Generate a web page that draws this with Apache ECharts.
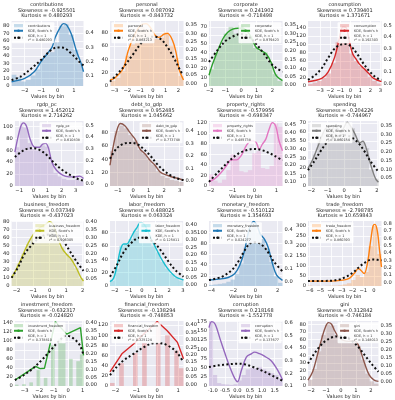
<!DOCTYPE html>
<html>
<head>
<meta charset="utf-8">
<script src="https://cdn.jsdelivr.net/npm/echarts@6/dist/echarts.min.js"></script>
<style>
  html, body { margin: 0; padding: 0; background: #fff; }
  #chart { width: 395px; height: 400px; }
</style>
</head>
<body>
<div id="chart"></div>
<script>
// ---- data ----
const names = ['contributions', 'personal', 'corporate', 'consumption',
  'rgdp_pc', 'debt_to_gdp', 'property_rights', 'spending',
  'business_freedom', 'labor_freedom', 'monetary_freedom', 'trade_freedom',
  'investment_freedom', 'financial_freedom', 'corruption', 'gini'];
const skewness = ['-0.925501', '0.087092', '0.241902', '0.739401',
  '1.452012', '0.952485', '-0.579956', '-0.204226',
  '0.037349', '0.488025', '-0.510122', '-2.798785',
  '-0.632317', '-0.138294', '0.218168', '0.312842'];
const kurtosis = ['0.480293', '-0.843732', '-0.718498', '1.371671',
  '2.714262', '1.045662', '-0.698347', '-0.744967',
  '-0.437023', '0.063324', '1.354693', '10.659843',
  '-0.024820', '-0.748853', '-1.552778', '-0.746184'];
const rSquared = ['0.480293', '0.867213', '0.979423', '0.192303',
  '0.610838', '0.773748', '0.485738', '0.860154',
  '0.906305', '0.125811', '0.024277', '0.860393',
  '0.378810', '0.325124', '0.137677', '0.148013'];

const xRanges = [[-2.8, 1.58], [-3.35, 2.4], [-2.05, 2.65], [-4.2, 3.1],
  [-1.3, 3.55], [-1.5, 3.25], [-2.07, 1.28], [-2.2, 2.1],
  [-2.3, 2.05], [-2.35, 3.05], [-4.2, 2.45], [-6.15, 0.7],
  [-3.67, 1.06], [-2.26, 1.26], [-1.15, 1.82], [-2.2, 2.5]];
const xTicks = [[-2, -1, 0, 1], [-3, -2, -1, 0, 1, 2], [-2, -1, 0, 1, 2], [-3, -2, -1, 0, 1, 2, 3],
  [-1, 0, 1, 2, 3], [-1, 0, 1, 2, 3], [-2, -1, 0, 1], [-2, -1, 0, 1, 2],
  [-2, -1, 0, 1, 2], [-2, -1, 0, 1, 2, 3], [-4, -2, 0, 2], [-6, -5, -4, -3, -2, -1, 0],
  [-3, -2, -1, 0, 1], [-2, -1, 0, 1], [-1, -0.5, 0, 0.5, 1, 1.5], [-2, -1, 0, 1, 2]];

const countMax = [86.5, 97, 77, 156, 109, 97, 123, 72, 80.7, 97, 121.6, 325, 144, 128, 177, 84.3];
const countTicks = [
  [0, 10, 20, 30, 40, 50, 60, 70, 80], [0, 20, 40, 60, 80], [0, 10, 20, 30, 40, 50, 60, 70],
  [0, 20, 40, 60, 80, 100, 120, 140], [0, 20, 40, 60, 80, 100], [0, 20, 40, 60, 80],
  [0, 20, 40, 60, 80, 100, 120], [0, 10, 20, 30, 40, 50, 60, 70], [0, 10, 20, 30, 40, 50, 60, 70, 80],
  [0, 20, 40, 60, 80], [0, 20, 40, 60, 80, 100], [0, 50, 100, 150, 200, 250, 300],
  [0, 20, 40, 60, 80, 100, 120, 140], [0, 20, 40, 60, 80, 100, 120], [0, 25, 50, 75, 100, 125, 150, 175],
  [0, 10, 20, 30, 40, 50, 60, 70, 80]];

const densityRanges = [[0.031, 0.484], [-0.016, 0.374], [-0.006, 0.373], [-0.023, 0.537],
  [-0.017, 0.536], [-0.039, 0.478], [0.07, 0.475], [0.005, 0.375],
  [0.002, 0.404], [-0.007, 0.426], [-0.033, 0.47], [-0.049, 0.836],
  [-0.006, 0.41], [-0.011, 0.427], [0.1, 0.613], [-0.025, 0.381]];
const densityTicks = [
  [0.1, 0.2, 0.3, 0.4], [0, 0.05, 0.1, 0.15, 0.2, 0.25, 0.3, 0.35],
  [0, 0.05, 0.1, 0.15, 0.2, 0.25, 0.3, 0.35], [0, 0.1, 0.2, 0.3, 0.4, 0.5],
  [0, 0.1, 0.2, 0.3, 0.4, 0.5], [0, 0.1, 0.2, 0.3, 0.4],
  [0.1, 0.15, 0.2, 0.25, 0.3, 0.35, 0.4, 0.45], [0.05, 0.1, 0.15, 0.2, 0.25, 0.3, 0.35],
  [0.05, 0.1, 0.15, 0.2, 0.25, 0.3, 0.35, 0.4], [0, 0.05, 0.1, 0.15, 0.2, 0.25, 0.3, 0.35, 0.4],
  [0, 0.1, 0.2, 0.3, 0.4], [0, 0.1, 0.2, 0.3, 0.4, 0.5, 0.6, 0.7, 0.8],
  [0, 0.05, 0.1, 0.15, 0.2, 0.25, 0.3, 0.35, 0.4], [0, 0.05, 0.1, 0.15, 0.2, 0.25, 0.3, 0.35, 0.4],
  [0.1, 0.2, 0.3, 0.4, 0.5, 0.6], [0, 0.05, 0.1, 0.15, 0.2, 0.25, 0.3, 0.35]];

const binStarts = [-2.8, -3.3, -2.05, -4.2, -1.3, -1.5, -2.07, -2.2,
  -2.3, -2.35, -4.2, -6.15, -3.67, -2.26, -1.15, -2.2];
const binWidths = [0.29, 0.38, 0.313, 0.456, 0.303, 0.297, 0.197, 0.287,
  0.29, 0.3375, 0.391, 0.403, 0.249, 0.22, 0.165, 0.294];
const binCounts = [
  [15, 12, 6, 8, 14, 22, 35, 42, 45, 58, 80, 82, 68, 48, 30],
  [8, 12, 22, 45, 62, 80, 88, 85, 78, 70, 72, 80, 60, 42, 15],
  [20, 40, 48, 62, 70, 62, 72, 64, 60, 45, 42, 40, 28, 14, 6],
  [5, 8, 12, 20, 30, 55, 105, 140, 125, 78, 60, 48, 42, 22, 12, 6],
  [65, 100, 98, 72, 62, 60, 68, 66, 40, 22, 16, 12, 10, 10, 12, 8],
  [52, 82, 90, 86, 76, 68, 54, 48, 40, 32, 22, 15, 12, 9, 8, 6],
  [22, 10, 6, 12, 30, 60, 58, 28, 26, 30, 62, 66, 34, 32, 38, 118, 112],
  [22, 35, 52, 60, 66, 64, 58, 62, 68, 64, 50, 48, 42, 18, 8],
  [14, 28, 40, 52, 62, 70, 74, 76, 72, 60, 48, 40, 34, 22, 10],
  [8, 26, 60, 62, 70, 82, 92, 90, 76, 60, 50, 36, 26, 18, 12, 8],
  [2, 3, 4, 5, 8, 12, 22, 42, 72, 108, 118, 100, 88, 70, 45, 18, 6],
  [2, 0, 1, 0, 1, 2, 2, 4, 8, 14, 30, 55, 45, 70, 200, 300, 160],
  [3, 0, 4, 0, 8, 0, 35, 0, 18, 0, 90, 0, 105, 95, 0, 60, 0, 55, 70],
  [6, 0, 45, 0, 0, 65, 0, 85, 0, 0, 120, 0, 100, 0, 70, 35],
  [190, 30, 8, 5, 4, 3, 5, 15, 30, 45, 50, 48, 52, 45, 40, 35, 30, 20],
  [8, 22, 45, 66, 80, 78, 66, 60, 58, 56, 58, 52, 34, 16, 6, 3]];

const kdeCurves = [
  [[-2.8,0.061],[-2.0,0.084],[-1.42,0.13],[-1.03,0.198],[-0.63,0.256],[-0.34,0.30],[-0.14,0.37],[0.16,0.44],[0.36,0.466],[0.55,0.457],[0.85,0.39],[1.14,0.278],[1.44,0.187],[1.58,0.13]],
  [[-3.35,0.02],[-3.0,0.03],[-2.32,0.089],[-1.92,0.197],[-1.52,0.276],[-0.99,0.345],[-0.53,0.358],[-0.19,0.335],[0.21,0.285],[0.48,0.276],[0.88,0.295],[1.15,0.3],[1.55,0.256],[1.81,0.187],[2.08,0.079],[2.4,0.02]],
  [[-2.05,0.057],[-1.81,0.125],[-1.49,0.2],[-1.17,0.268],[-0.85,0.307],[-0.53,0.326],[-0.21,0.331],[0.11,0.331],[0.32,0.32],[0.53,0.297],[0.74,0.259],[0.96,0.22],[1.28,0.2],[1.6,0.182],[1.91,0.134],[2.23,0.057],[2.65,0.025]],
  [[-4.2,0.014],[-2.84,0.042],[-2.19,0.099],[-1.55,0.226],[-1.06,0.395],[-0.74,0.486],[-0.42,0.48],[-0.1,0.367],[0.23,0.254],[0.55,0.212],[0.87,0.17],[1.35,0.127],[1.84,0.085],[2.32,0.042],[3.1,0.014]],
  [[-1.3,0.271],[-1.09,0.394],[-0.88,0.492],[-0.7,0.52],[-0.48,0.492],[-0.22,0.38],[0.11,0.313],[0.44,0.313],[0.66,0.34],[0.88,0.346],[1.09,0.299],[1.31,0.187],[1.64,0.117],[2.08,0.075],[2.52,0.061],[2.95,0.061],[3.28,0.067],[3.55,0.047]],
  [[-1.5,0.126],[-1.3,0.27],[-1.09,0.387],[-0.83,0.458],[-0.54,0.44],[-0.22,0.387],[0.11,0.335],[0.43,0.257],[0.76,0.217],[1.09,0.165],[1.41,0.126],[1.74,0.073],[2.17,0.047],[2.61,0.029],[2.93,0.021],[3.25,0.008]],
  [[-2.07,0.096],[-1.8,0.116],[-1.5,0.157],[-1.27,0.198],[-1.05,0.233],[-0.82,0.233],[-0.6,0.26],[-0.37,0.321],[-0.15,0.352],[0.07,0.342],[0.22,0.3],[0.37,0.332],[0.52,0.362],[0.67,0.424],[0.82,0.465],[0.97,0.444],[1.12,0.352],[1.28,0.29]],
  [[-2.2,0.105],[-1.92,0.154],[-1.63,0.222],[-1.35,0.29],[-1.15,0.329],[-0.96,0.339],[-0.77,0.319],[-0.58,0.348],[-0.38,0.329],[-0.19,0.309],[0,0.339],[0.19,0.368],[0.38,0.348],[0.67,0.3],[0.96,0.251],[1.15,0.26],[1.35,0.222],[1.63,0.125],[1.92,0.047],[2.1,0.027]],
  [[-2.3,0.053],[-2.02,0.105],[-1.73,0.167],[-1.43,0.239],[-1.14,0.296],[-0.84,0.342],[-0.55,0.366],[-0.25,0.383],[0,0.4],[0.2,0.383],[0.43,0.321],[0.73,0.239],[1.02,0.198],[1.31,0.167],[1.61,0.115],[1.9,0.053],[2.05,0.033]],
  [[-2.35,0.022],[-2.09,0.044],[-1.85,0.12],[-1.6,0.229],[-1.35,0.273],[-1.11,0.273],[-0.86,0.306],[-0.62,0.349],[-0.37,0.382],[-0.12,0.415],[0.12,0.408],[0.37,0.371],[0.62,0.317],[0.99,0.251],[1.35,0.186],[1.72,0.131],[2.09,0.087],[2.46,0.055],[2.71,0.044],[3.05,0.033]],
  [[-4.2,0.013],[-3.34,0.02],[-2.46,0.033],[-1.86,0.064],[-1.42,0.127],[-0.98,0.242],[-0.68,0.369],[-0.38,0.445],[-0.15,0.466],[0.15,0.433],[0.44,0.369],[0.8,0.331],[1.15,0.267],[1.54,0.14],[1.92,0.051],[2.45,0.01]],
  [[-6.15,0.018],[-4.15,0.018],[-2.92,0.031],[-2.31,0.054],[-1.85,0.12],[-1.45,0.188],[-1.23,0.165],[-0.92,0.12],[-0.62,0.254],[-0.31,0.567],[-0.09,0.768],[0.09,0.79],[0.31,0.7],[0.52,0.433],[0.7,0.21]],
  [[-3.67,0.032],[-2.24,0.12],[-1.94,0.105],[-1.63,0.108],[-0.88,0.406],[-0.1,0.326],[0.85,0.368],[1.06,0.19]],
  [[-2.26,0.084],[-1.69,0.206],[-1.13,0.272],[-0.73,0.327],[0,0.423],[0.48,0.361],[0.97,0.283],[1.26,0.173]],
  [[-1.15,0.561],[-1.04,0.608],[-0.9,0.587],[-0.7,0.47],[-0.5,0.354],[-0.31,0.25],[-0.11,0.16],[0,0.134],[0.16,0.224],[0.36,0.328],[0.56,0.354],[0.69,0.367],[0.89,0.355],[1.09,0.335],[1.36,0.3],[1.63,0.224],[1.82,0.15]],
  [[-2.2,0.012],[-1.89,0.064],[-1.58,0.166],[-1.26,0.279],[-1.01,0.35],[-0.84,0.371],[-0.63,0.361],[-0.42,0.32],[-0.11,0.275],[0.21,0.258],[0.53,0.254],[0.84,0.258],[1.05,0.248],[1.26,0.207],[1.58,0.115],[1.89,0.043],[2.21,0.012],[2.5,0.004]]];

const normalCurves = [
  [[-2.8,0.072],[-2.2,0.1],[-1.6,0.153],[-1.03,0.21],[-0.43,0.278],[0,0.30],[0.36,0.297],[0.85,0.256],[1.34,0.198],[1.58,0.175]],
  [[-3.35,0.01],[-2.85,0.05],[-2.19,0.108],[-1.52,0.177],[-0.85,0.246],[-0.32,0.276],[0.08,0.28],[0.61,0.266],[1.15,0.217],[1.68,0.148],[2.21,0.069],[2.4,0.05]],
  [[-2.05,0.134],[-1.49,0.205],[-0.96,0.259],[-0.43,0.287],[0,0.297],[0.43,0.287],[0.96,0.24],[1.49,0.178],[2.02,0.115],[2.65,0.077]],
  [[-4.2,0.03],[-3.5,0.07],[-2.84,0.13],[-2.19,0.22],[-1.55,0.3],[-0.9,0.335],[-0.42,0.338],[0.06,0.32],[0.71,0.25],[1.35,0.165],[2.0,0.095],[2.65,0.045],[3.1,0.03]],
  [[-1.3,0.229],[-0.88,0.271],[-0.44,0.299],[0,0.304],[0.44,0.29],[0.98,0.243],[1.53,0.173],[2.08,0.117],[2.63,0.075],[3.17,0.042],[3.55,0.028]],
  [[-1.5,0.178],[-1.09,0.257],[-0.65,0.296],[-0.22,0.304],[0.22,0.296],[0.65,0.257],[1.09,0.204],[1.52,0.139],[1.96,0.086],[2.39,0.047],[2.83,0.021],[3.25,0.008]],
  [[-2.07,0.096],[-1.65,0.157],[-1.2,0.219],[-0.75,0.27],[-0.3,0.295],[0,0.301],[0.3,0.295],[0.6,0.28],[0.9,0.26],[1.28,0.229]],
  [[-2.2,0.095],[-1.83,0.144],[-1.44,0.202],[-1.06,0.251],[-0.67,0.28],[-0.29,0.294],[0.1,0.294],[0.48,0.28],[0.87,0.251],[1.25,0.202],[1.63,0.144],[2.1,0.086]],
  [[-2.3,0.053],[-1.92,0.115],[-1.53,0.198],[-1.14,0.249],[-0.75,0.29],[-0.35,0.315],[0.04,0.321],[0.43,0.311],[0.82,0.28],[1.22,0.218],[1.61,0.156],[2.05,0.095]],
  [[-2.35,0.055],[-1.85,0.131],[-1.35,0.218],[-0.86,0.273],[-0.37,0.31],[0,0.317],[0.49,0.306],[0.99,0.273],[1.48,0.218],[1.97,0.153],[2.46,0.098],[3.05,0.055]],
  [[-4.2,0.013],[-3.05,0.038],[-2.16,0.089],[-1.57,0.153],[-0.98,0.242],[-0.53,0.293],[-0.09,0.305],[0.36,0.298],[0.8,0.267],[1.24,0.216],[1.69,0.153],[2.45,0.08]],
  [[-6.15,0.018],[-4.15,0.022],[-3.23,0.04],[-2.62,0.076],[-2.0,0.129],[-1.38,0.21],[-0.77,0.277],[-0.15,0.313],[0.31,0.308],[0.7,0.3]],
  [[-3.67,0.032],[-3.06,0.063],[-2.45,0.105],[-1.84,0.158],[-1.22,0.221],[-0.61,0.284],[-0.1,0.316],[0.41,0.295],[0.82,0.253],[1.06,0.19]],
  [[-2.26,0.062],[-1.94,0.117],[-1.61,0.162],[-1.13,0.206],[-0.65,0.25],[-0.16,0.277],[0.16,0.277],[0.65,0.25],[0.97,0.21],[1.26,0.15]],
  [[-1.15,0.25],[-0.77,0.263],[-0.37,0.271],[0,0.276],[0.29,0.271],[0.63,0.25],[0.96,0.224],[1.29,0.193],[1.63,0.16],[1.82,0.141]],
  [[-2.2,0.115],[-1.79,0.176],[-1.37,0.227],[-0.95,0.262],[-0.42,0.283],[0,0.285],[0.42,0.275],[0.84,0.248],[1.26,0.207],[1.68,0.156],[2.11,0.105],[2.5,0.064]]];

// ---- layout / style ----
const palette = ['#1f77b4', '#ff7f0e', '#2ca02c', '#d62728', '#9467bd',
  '#8c564b', '#e377c2', '#7f7f7f', '#bcbd22', '#17becf'];
const colLeft = [10, 110, 209, 308];
const plotW = 73.5, plotH = 65;
const legendOnRight = [false, false, true, true, true, true, false, false,
  true, true, false, false, false, false, true, true];
const linearKde = [12, 13];
const ink = '#262626';
const font = 'DejaVu Sans';

function rgba(hex, a) {
  const n = parseInt(hex.slice(1), 16);
  return `rgba(${n >> 16},${(n >> 8) & 255},${n & 255},${a})`;
}
function decimals(ticks) {
  if (ticks.every(t => Number.isInteger(t))) return 0;
  return ticks.some(t => Math.abs(t * 10 - Math.round(t * 10)) > 1e-6) ? 2 : 1;
}
// decimal x labels are packed tight, a plain hyphen keeps them from colliding
function fmt(dec, minus) {
  return v => v.toFixed(dec).replace('-', minus);
}
function labelStyle(values, dec, minus) {
  return { customValues: values, fontSize: 5.2, color: ink, margin: 2, fontFamily: font,
    showMinLabel: true, showMaxLabel: true, hideOverlap: false,
    formatter: fmt(dec, minus || '\u2212') };
}

const grid = [], xAxis = [], yAxis = [], series = [], legend = [], graphic = [];

names.forEach((name, i) => {
  const r = Math.floor(i / 4), c = i % 4;
  const left = colLeft[c], top = 100 * r + 21;
  const color = palette[i % 10];
  const fill = rgba(color, 0.25);
  const xDec = decimals(xTicks[i]);

  grid.push({ left, top, width: plotW, height: plotH, show: true,
    backgroundColor: '#eaeaf2', borderWidth: 0 });

  xAxis.push({
    gridIndex: i, type: 'value', min: xRanges[i][0], max: xRanges[i][1],
    name: 'Values by bin', nameLocation: 'middle', nameGap: 7,
    nameTextStyle: { fontSize: 5, color: ink, fontFamily: font },
    axisLine: { show: false },
    axisTick: { show: false, customValues: xTicks[i] },
    axisLabel: labelStyle(xTicks[i], xDec, xDec ? '-' : '\u2212'),
    splitLine: { show: true, lineStyle: { color: '#fff', width: 0.8 } }
  });

  yAxis.push({
    gridIndex: i, type: 'value', position: 'left', min: 0, max: countMax[i],
    axisLine: { show: false },
    axisTick: { show: false, customValues: countTicks[i] },
    axisLabel: labelStyle(countTicks[i], 0),
    splitLine: { show: true, lineStyle: { color: '#fff', width: 0.8 } }
  });
  yAxis.push({
    gridIndex: i, type: 'value', position: 'right',
    min: densityRanges[i][0], max: densityRanges[i][1],
    axisLine: { show: false },
    axisTick: { show: false, customValues: densityTicks[i] },
    axisLabel: labelStyle(densityTicks[i], decimals(densityTicks[i])),
    splitLine: { show: false }
  });

  const bins = binCounts[i].map((n, k) => [
    binStarts[i] + k * binWidths[i], binStarts[i] + (k + 1) * binWidths[i], n]);

  series.push({
    type: 'custom', name: 'h' + i, xAxisIndex: i, yAxisIndex: 2 * i,
    silent: true, clip: true, encode: { x: [0, 1], y: 2 },
    itemStyle: { color: fill },
    data: bins,
    renderItem: (params, api) => {
      const a = api.coord([api.value(0), api.value(2)]);
      const b = api.coord([api.value(1), 0]);
      return { type: 'rect',
        shape: { x: a[0], y: a[1], width: b[0] - a[0], height: b[1] - a[1] },
        style: { fill } };
    }
  });
  series.push({
    type: 'line', name: 'k' + i, xAxisIndex: i, yAxisIndex: 2 * i + 1,
    data: kdeCurves[i], smooth: linearKde.includes(i) ? false : 0.35,
    symbol: 'none', silent: true, z: 3,
    lineStyle: { color, width: 1.4 }, itemStyle: { color }
  });
  series.push({
    type: 'line', name: 'n' + i, xAxisIndex: i, yAxisIndex: 2 * i + 1,
    data: normalCurves[i], smooth: 0.35, symbol: 'none', silent: true, z: 4,
    lineStyle: { color: '#111', width: 2, type: [2, 2.4] }, itemStyle: { color: '#111' }
  });

  const labels = { ['h' + i]: name, ['k' + i]: "KDE, Scott's h",
    ['n' + i]: 'KDE, h = 1\nr\u00b2 = ' + rSquared[i] };
  const lg = {
    data: [{ name: 'h' + i, icon: 'rect', itemStyle: { color: fill } },
      { name: 'k' + i }, { name: 'n' + i }],
    formatter: n => labels[n],
    orient: 'vertical', top: top + 1.2, selectedMode: false,
    itemWidth: 9, itemHeight: 3.2, itemGap: 1.2,
    padding: [1.5, 2.5, 1.5, 1.5], backgroundColor: 'rgba(255,255,255,0.85)',
    borderRadius: 1, z: 10,
    textStyle: { fontSize: 3.4, lineHeight: 3.9, color: '#333', fontFamily: font }
  };
  if (legendOnRight[i]) lg.right = 395 - (left + plotW) + 1;
  else lg.left = left + 1.5;
  legend.push(lg);

  graphic.push({
    type: 'text', x: left + plotW / 2, y: 100 * r + 2.5, silent: true,
    style: { text: name + '\nSkewness = ' + skewness[i] + '\nKurtosis = ' + kurtosis[i],
      textAlign: 'center', align: 'center', textVerticalAlign: 'top', verticalAlign: 'top',
      fontSize: 5, lineHeight: 5.3, fontFamily: font, fill: ink }
  });
});

const chart = echarts.init(document.getElementById('chart'), null, { renderer: 'canvas' });
chart.setOption({
  animation: false,
  backgroundColor: '#fff',
  textStyle: { fontFamily: font },
  grid, xAxis, yAxis, series, legend, graphic
});
</script>
</body>
</html>
